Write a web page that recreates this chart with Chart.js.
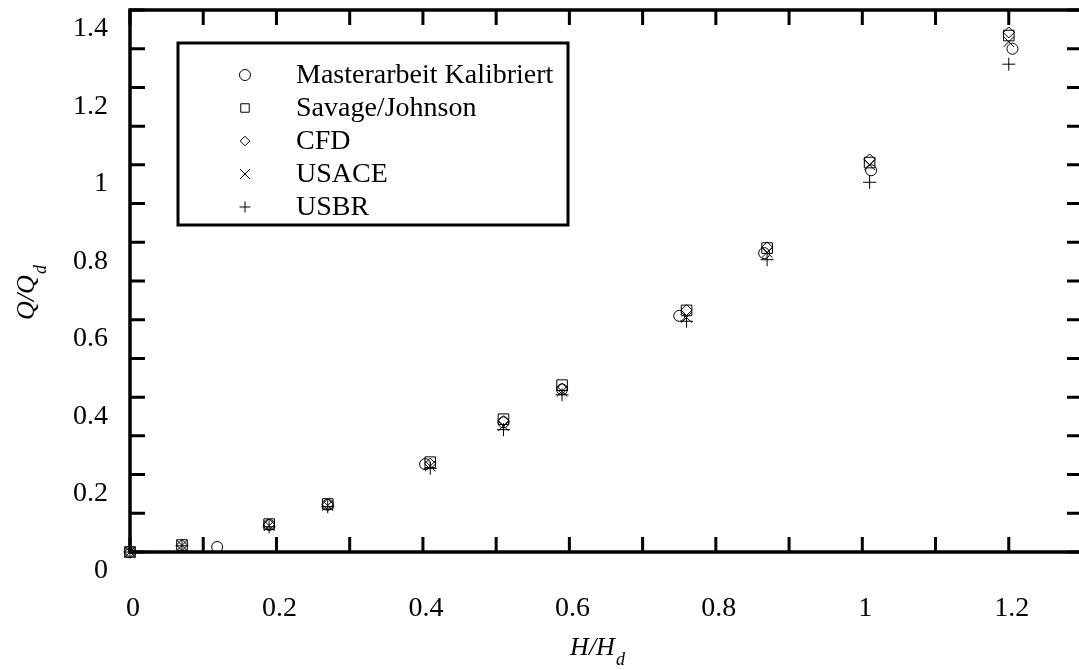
<!DOCTYPE html>
<html>
<head>
<meta charset="utf-8">
<script src="https://cdn.jsdelivr.net/npm/chart.js@4.4.1/dist/chart.umd.min.js"></script>
<style>
    html, body { margin: 0; padding: 0; background: #fff; overflow: hidden; }
    #wrap { width: 1100px; height: 670px; }
</style>
</head>
<body>
<div id="wrap"><canvas id="grafica" width="1100" height="670"></canvas></div>
<script>
// datos (H/Hd contra Q/Qd)
const etiquetas = ['Masterarbeit Kalibriert', 'Savage/Johnson', 'CFD', 'USACE', 'USBR'];

const masterX = [0, 0.119, 0.19, 0.27, 0.403, 0.51, 0.59, 0.75, 0.866, 1.012, 1.205];
const masterY = [0, 0.013, 0.070, 0.122, 0.227, 0.335, 0.420, 0.610, 0.772, 0.986, 1.300];

const refX = [0, 0.071, 0.19, 0.27, 0.41, 0.51, 0.59, 0.76, 0.87, 1.01, 1.20];
const savageY = [0, 0.018, 0.072, 0.124, 0.232, 0.343, 0.431, 0.624, 0.785, 1.006, 1.334];
const cfdY = [0, 0.018, 0.071, 0.123, 0.228, 0.338, 0.422, 0.625, 0.787, 1.014, 1.342];
const usaceY = [0, 0.017, 0.068, 0.120, 0.222, 0.326, 0.415, 0.606, 0.774, 1.000, 1.318];
const usbrY = [0, 0.016, 0.065, 0.117, 0.216, 0.316, 0.406, 0.596, 0.755, 0.955, 1.260];

const ticksX = [0, 0.2, 0.4, 0.6, 0.8, 1, 1.2];
const ticksY = [0, 0.2, 0.4, 0.6, 0.8, 1, 1.2, 1.4];

const FUENTE = "'Liberation Serif', 'Times New Roman', serif";

function puntos(xs, ys) {
    return xs.map((x, i) => ({ x: x, y: ys[i] }));
}

function etiquetaTick(lista) {
    return function (v) {
        const r = Math.round(v * 10) / 10;
        return lista.some(t => Math.abs(t - r) < 1e-6) ? String(r) : '';
    };
}

function sinPadding(scale) {
    scale.paddingTop = 0;
    scale.paddingBottom = 0;
    scale.paddingLeft = 0;
    scale.paddingRight = 0;
}

const estilos = [
    { pointStyle: 'circle', radius: 5.5, leyenda: 5.5 },
    { pointStyle: 'rect', radius: 7.5, leyenda: 6 },
    { pointStyle: 'rectRot', radius: 5.5, leyenda: 4.8 },
    { pointStyle: 'crossRot', radius: 7.5, leyenda: 7 },
    { pointStyle: 'cross', radius: 6.5, leyenda: 5.5 }
];

const series = [
    puntos(masterX, masterY),
    puntos(refX, savageY),
    puntos(refX, cfdY),
    puntos(refX, usaceY),
    puntos(refX, usbrY)
];

// marco y ticks hacia adentro (antes de los puntos), titulos y leyenda (al final)
const marcoPlugin = {
    id: 'marco',
    beforeDatasetsDraw(chart) {
        const ctx = chart.ctx;
        const a = chart.chartArea;
        const sx = chart.scales.x;
        const sy = chart.scales.y;
        const largo = 15;

        ctx.save();
        ctx.strokeStyle = '#000';
        ctx.lineWidth = 3;

        ctx.beginPath();
        sx.ticks.forEach(t => {
            const px = sx.getPixelForValue(t.value);
            ctx.moveTo(px, a.bottom);
            ctx.lineTo(px, a.bottom - largo);
            ctx.moveTo(px, a.top);
            ctx.lineTo(px, a.top + largo);
        });
        sy.ticks.forEach(t => {
            const py = sy.getPixelForValue(t.value);
            ctx.moveTo(a.left, py);
            ctx.lineTo(a.left + largo, py);
            ctx.moveTo(a.right, py);
            ctx.lineTo(a.right - largo, py);
        });
        ctx.stroke();

        ctx.lineWidth = 3.5;
        ctx.strokeRect(a.left, a.top, a.right - a.left, a.bottom - a.top);
        ctx.restore();
    },
    afterDraw(chart) {
        const ctx = chart.ctx;
        const a = chart.chartArea;

        ctx.save();
        ctx.strokeStyle = '#000';

        // titulo eje x
        ctx.fillStyle = '#000';
        ctx.textBaseline = 'middle';
        ctx.textAlign = 'left';
        ctx.font = 'italic 26px ' + FUENTE;
        const w1 = ctx.measureText('H/H').width;
        ctx.font = 'italic 18px ' + FUENTE;
        const w2 = ctx.measureText('d').width;
        const cx = (a.left + a.right) / 2 - 9;
        const x0 = cx - (w1 + w2) / 2;
        const yx = a.bottom + 96;
        ctx.font = 'italic 26px ' + FUENTE;
        ctx.fillText('H/H', x0, yx);
        ctx.font = 'italic 18px ' + FUENTE;
        ctx.fillText('d', x0 + w1 + 1, yx + 12);

        // titulo eje y
        ctx.save();
        ctx.translate(a.left - 103, (a.top + a.bottom) / 2 + 12);
        ctx.rotate(-Math.PI / 2);
        ctx.font = 'italic 26px ' + FUENTE;
        const q1 = ctx.measureText('Q/Q').width;
        ctx.font = 'italic 18px ' + FUENTE;
        const q2 = ctx.measureText('d').width;
        const qx = -(q1 + q2) / 2;
        ctx.font = 'italic 26px ' + FUENTE;
        ctx.fillText('Q/Q', qx, 0);
        ctx.font = 'italic 18px ' + FUENTE;
        ctx.fillText('d', qx + q1 + 1, 14);
        ctx.restore();

        // leyenda
        const lx = a.left + 48;
        const ly = a.top + 33;
        ctx.fillStyle = '#fff';
        ctx.fillRect(lx, ly, 390, 182);
        ctx.lineWidth = 3;
        ctx.strokeRect(lx, ly, 390, 182);

        ctx.font = '28px ' + FUENTE;
        ctx.textAlign = 'left';
        ctx.textBaseline = 'middle';
        chart.data.datasets.forEach((ds, i) => {
            const yy = ly + 32 + i * 33;
            ctx.strokeStyle = '#000';
            ctx.fillStyle = 'rgba(0,0,0,0)';
            ctx.lineWidth = 1;
            Chart.helpers.drawPoint(ctx, {
                pointStyle: estilos[i].pointStyle,
                radius: estilos[i].leyenda,
                rotation: 0,
                borderWidth: 1
            }, lx + 67, yy);
            ctx.fillStyle = '#000';
            ctx.fillText(ds.label, lx + 118, yy + 1);
        });

        ctx.restore();
    }
};

new Chart(document.getElementById('grafica'), {
    type: 'scatter',
    data: {
        datasets: series.map((d, i) => ({
            label: etiquetas[i],
            data: d,
            showLine: false,
            clip: false,
            pointStyle: estilos[i].pointStyle,
            pointRadius: estilos[i].radius,
            pointHoverRadius: estilos[i].radius,
            pointBorderWidth: 1,
            borderColor: '#000',
            backgroundColor: 'rgba(0,0,0,0)'
        }))
    },
    options: {
        responsive: false,
        animation: false,
        layout: { padding: { top: 10, right: 18, left: 0, bottom: 0 } },
        plugins: {
            legend: { display: false },
            tooltip: { enabled: false }
        },
        scales: {
            x: {
                type: 'linear',
                min: 0,
                max: 1.3,
                grid: { display: false, drawTicks: false },
                border: { display: false },
                ticks: {
                    stepSize: 0.1,
                    autoSkip: false,
                    maxRotation: 0,
                    padding: 40,
                    labelOffset: 3,
                    color: '#000',
                    font: { family: FUENTE, size: 28 },
                    callback: etiquetaTick(ticksX)
                },
                afterFit(scale) {
                    scale.height = 118;
                    sinPadding(scale);
                }
            },
            y: {
                type: 'linear',
                min: 0,
                max: 1.4,
                grid: { display: false, drawTicks: false },
                border: { display: false },
                ticks: {
                    stepSize: 0.1,
                    autoSkip: false,
                    padding: 22,
                    labelOffset: 19,
                    color: '#000',
                    font: { family: FUENTE, size: 28 },
                    callback: etiquetaTick(ticksY)
                },
                afterFit(scale) {
                    scale.width = 130;
                    sinPadding(scale);
                }
            }
        }
    },
    plugins: [marcoPlugin]
});
</script>
</body>
</html>
